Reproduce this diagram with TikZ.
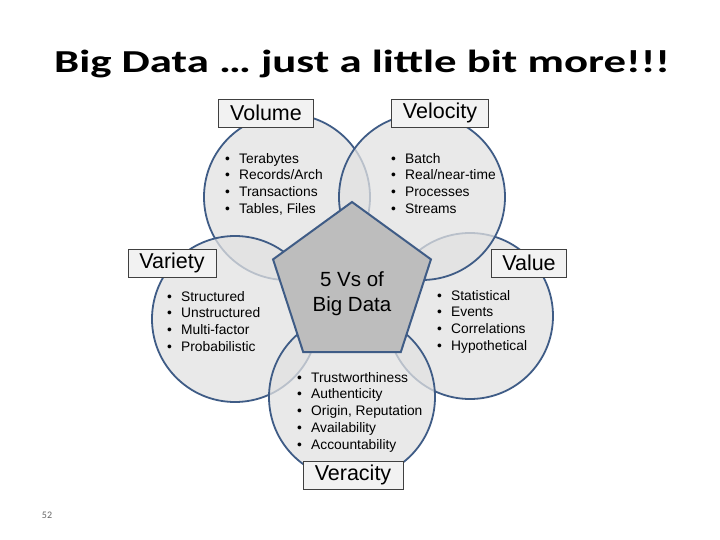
\documentclass[tikz,border=0pt]{standalone}
\usepackage{fontspec}
\setmainfont{Liberation Sans}
\newfontfamily\titlefont{Carlito}
\usetikzlibrary{shapes.geometric,positioning}

\definecolor{rimblue}{HTML}{3F5C86}
\definecolor{discgray}{HTML}{E2E2E2}
\definecolor{coregray}{HTML}{BDBDBD}
\newcommand{\bul}{\makebox[14pt][l]{\textbullet}}

\begin{document}
\begin{tikzpicture}[x=1pt, y=-1pt,
  disc/.style={circle, draw=rimblue, line width=1.8pt, fill=discgray, fill opacity=0.75, minimum size=166pt, inner sep=0pt},
  vlabel/.style={draw=black!75, line width=0.6pt, fill=white!95!black, inner sep=0pt, minimum height=28pt, font=\fontsize{21.5}{21.5}\selectfont},
  itemlist/.style={anchor=north west, align=left, inner sep=0pt, font=\fontsize{13.8}{16.7}\selectfont},
  core/.style={regular polygon, regular polygon sides=5, draw=rimblue, line width=2pt, fill=coregray, minimum size=166pt, inner sep=0pt}]
\path[use as bounding box, fill=white] (0,0) rectangle (720,540);
\node[anchor=base, xscale=1.4, font=\titlefont\bfseries\fontsize{32}{32}\selectfont] (title) at (362,73) {Big Data … just a little bit more!!!};
% five overlapping discs
\node[disc] (Volume) at (287,197) {};
\node[disc] (Value) at (470,316) {};
\node[disc] (Velocity) at (422,197) {};
\node[disc] (Variety) at (235,319) {};
\node[disc] (Veracity) at (352,397) {};
\node[core] (Pent) at (352,285) {};
\node[align=center, font=\fontsize{20.5}{25}\selectfont] (coreText) at (352,294) {5 Vs of\\Big Data};
% captions
\node[vlabel, minimum width=95pt] (VolumeLbl) at (266,113) {Volume};
\node[vlabel, minimum width=97pt] (VelocityLbl) at (440,113) {Velocity};
\node[vlabel, minimum width=88pt] (VarietyLbl) at (172,263) {Variety};
\node[vlabel, minimum width=75pt] (ValueLbl) at (529,263) {Value};
\node[vlabel, minimum width=100pt] (VeracityLbl) at (353,475) {Veracity};
% lists
\node[itemlist] (VolumeList) at (225,153) {\bul Terabytes\\\bul Records/Arch\\\bul Transactions\\\bul Tables, Files};
\node[itemlist] (VelocityList) at (391,153) {\bul Batch\\\bul Real/near-time\\\bul Processes\\\bul Streams};
\node[itemlist] (VarietyList) at (167,291) {\bul Structured\\\bul Unstructured\\\bul Multi-factor\\\bul Probabilistic};
\node[itemlist] (ValueList) at (437,290) {\bul Statistical\\\bul Events\\\bul Correlations\\\bul Hypothetical};
\node[itemlist] (VeracityList) at (297,372) {\bul Trustworthiness\\\bul Authenticity\\\bul Origin, Reputation\\\bul Availability\\\bul Accountability};
\node[font=\titlefont\fontsize{10}{10}\selectfont, text=black!60] (pageNo) at (47,515) {52};
\end{tikzpicture}
\end{document}
